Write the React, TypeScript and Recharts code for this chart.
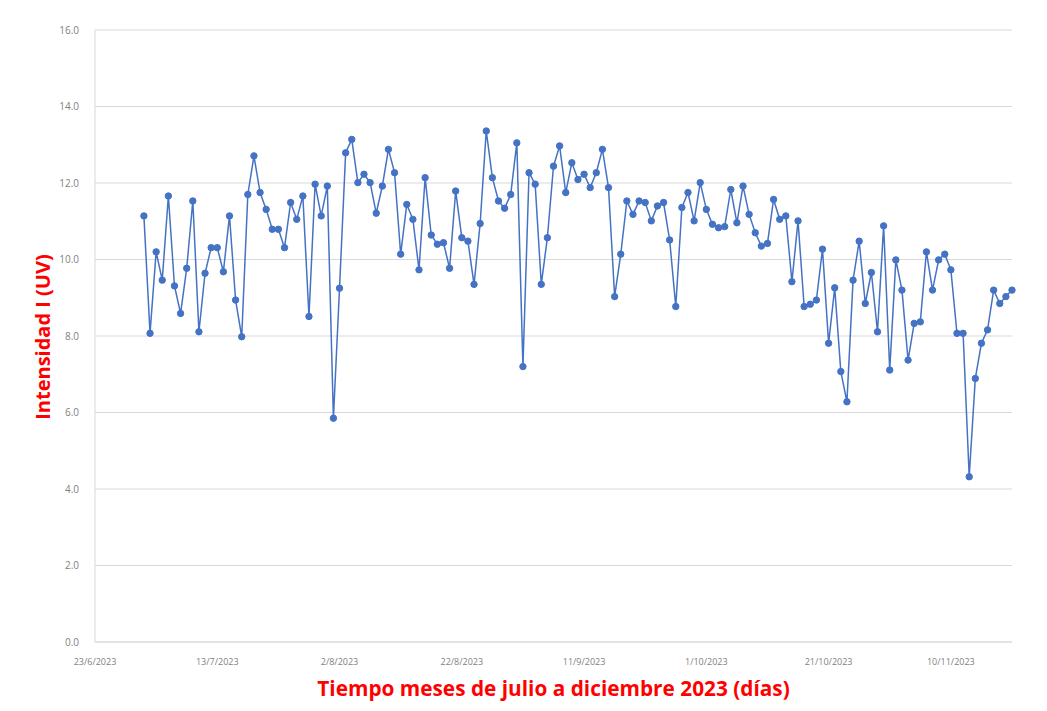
import React from "react";
import { LineChart, Line, XAxis, YAxis, CartesianGrid, Label } from "recharts";

// Daily UV intensity, 1 July 2023 to 20 November 2023
const firstDayOffset = 8; // 1/7/2023 is 8 days after 23/6/2023
const uvValues: number[] = [
  11.14, 8.07, 10.2, 9.46, 11.66, 9.31, 8.59, 9.77, 11.53, 8.11,
  9.64, 10.31, 10.31, 9.68, 11.14, 8.94, 7.98, 11.7, 12.71, 11.75,
  11.31, 10.79, 10.79, 10.31, 11.49, 11.05, 11.66, 8.51, 11.97, 11.14,
  11.92, 5.85, 9.25, 12.79, 13.14, 12.01, 12.23, 12.01, 11.21, 11.92,
  12.88, 12.27, 10.14, 11.44, 11.05, 9.73, 12.14, 10.64, 10.4, 10.44,
  9.77, 11.79, 10.57, 10.48, 9.35, 10.94, 13.36, 12.14, 11.53, 11.34,
  11.7, 13.05, 7.2, 12.27, 11.97, 9.35, 10.57, 12.44, 12.97, 11.75,
  12.53, 12.09, 12.23, 11.88, 12.27, 12.88, 11.88, 9.03, 10.14, 11.53,
  11.18, 11.53, 11.49, 11.01, 11.4, 11.49, 10.51, 8.77, 11.36, 11.75,
  11.01, 12.01, 11.31, 10.92, 10.83, 10.86, 11.83, 10.96, 11.92, 11.18,
  10.7, 10.35, 10.42, 11.57, 11.05, 11.14, 9.42, 11.01, 8.77, 8.83,
  8.94, 10.27, 7.81, 9.26, 7.07, 6.28, 9.46, 10.48, 8.85, 9.66,
  8.11, 10.88, 7.11, 9.99, 9.2, 7.37, 8.33, 8.37, 10.2, 9.2,
  9.99, 10.14, 9.73, 8.07, 8.07, 4.32, 6.89, 7.81, 8.16, 9.2,
  8.85, 9.03, 9.2,
];

const xTickDays = [0, 20, 40, 60, 80, 100, 120, 140];
const xTickLabels = [
  "23/6/2023", "13/7/2023", "2/8/2023", "22/8/2023",
  "11/9/2023", "1/10/2023", "21/10/2023", "10/11/2023",
];
const yTicks = [0, 2, 4, 6, 8, 10, 12, 14, 16];

const yTitle = "Intensidad I (UV)";
const xTitle = "Tiempo meses de julio a diciembre 2023 (días)";

const data = uvValues.map((v, i) => ({ day: firstDayOffset + i, uv: v }));

const FONT = "Open Sans, Noto Sans, Liberation Sans, sans-serif";

export default function App() {
  return (
    <div style={{ position: "absolute", left: 0, top: 0, background: "#fff" }}>
      <LineChart
        width={1047}
        height={711}
        data={data}
        margin={{ top: 30, right: 35, left: 0, bottom: 29 }}
      >
        <CartesianGrid vertical={false} stroke="#d9d9d9" strokeWidth={1} />
        <XAxis
          dataKey="day"
          type="number"
          domain={[0, 150]}
          ticks={xTickDays}
          tickFormatter={(d: number) => xTickLabels[xTickDays.indexOf(d)] ?? ""}
          stroke="#d9d9d9"
          tickLine={false}
          tick={{ fill: "#7f7f7f", fontSize: 9, fontFamily: FONT }}
          tickMargin={11}
          height={40}
          interval={0}
        >
          <Label
            value={xTitle}
            position="insideBottom"
            content={(props: any) => {
              const vb = props.viewBox;
              return (
                <text
                  x={vb.x + vb.width / 2}
                  y={vb.y + 54}
                  textAnchor="middle"
                  fill="#ff0000"
                  fontSize={20.8}
                  fontWeight="bold"
                  fontFamily={FONT}
                >
                  {xTitle}
                </text>
              );
            }}
          />
        </XAxis>
        <YAxis
          type="number"
          domain={[0, 16]}
          ticks={yTicks}
          tickFormatter={(v: number) => v.toFixed(1)}
          stroke="#d9d9d9"
          tickLine={false}
          width={95}
          tick={{ fill: "#7f7f7f", fontSize: 10, fontFamily: FONT }}
          tickMargin={10}
        >
          <Label
            value={yTitle}
            content={(props: any) => {
              const vb = props.viewBox;
              const cx = 42;
              const cy = vb.y + vb.height / 2 + 1;
              return (
                <text
                  x={cx}
                  y={cy}
                  transform={`rotate(-90, ${cx}, ${cy})`}
                  textAnchor="middle"
                  dominantBaseline="central"
                  fill="#ff0000"
                  fontSize={20}
                  fontWeight="bold"
                  fontFamily={FONT}
                >
                  {yTitle}
                </text>
              );
            }}
          />
        </YAxis>
        <Line
          type="linear"
          dataKey="uv"
          stroke="#4472c4"
          strokeWidth={1.5}
          dot={{ r: 3.2, fill: "#4472c4", stroke: "#4472c4", strokeWidth: 1 }}
          activeDot={false}
          isAnimationActive={false}
        />
      </LineChart>
    </div>
  );
}
